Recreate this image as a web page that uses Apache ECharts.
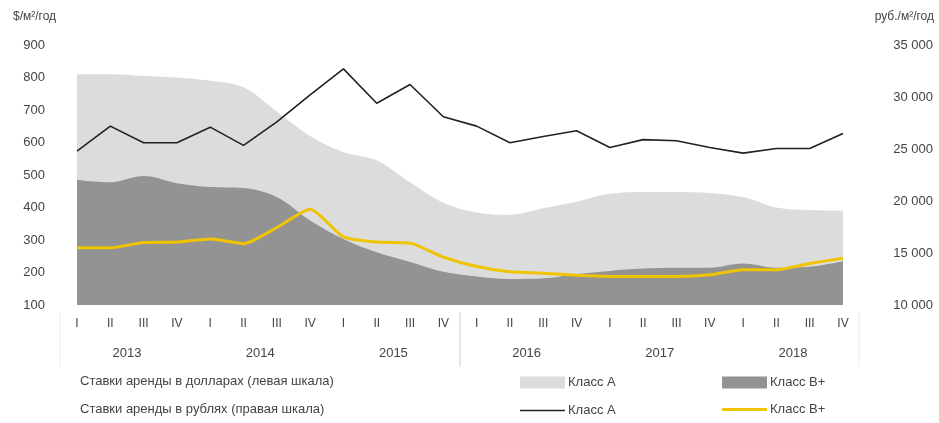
<!DOCTYPE html>
<html>
<head>
<meta charset="utf-8">
<script src="https://cdn.jsdelivr.net/npm/echarts@6/dist/echarts.min.js"></script>
<style>
  html, body { margin: 0; padding: 0; background: #fff; }
  #chart { width: 939px; height: 423px; }
</style>
</head>
<body>
<div id="chart"></div>
<script>
// quarters 2013..2018
var quarters = ['I', 'II', 'III', 'IV', 'I', 'II', 'III', 'IV', 'I', 'II', 'III', 'IV',
  'I', 'II', 'III', 'IV', 'I', 'II', 'III', 'IV', 'I', 'II', 'III', 'IV']
var years = ['2013', '2014', '2015', '2016', '2017', '2018']

// $/м²/год (left scale)
var classAUsd = [810, 810, 805, 800, 790, 770, 695, 620, 570, 545, 478, 415,
  385, 378, 398, 418, 442, 448, 448, 445, 432, 400, 392, 390]
var classBUsd = [485, 478, 497, 475, 463, 460, 432, 360, 303, 262, 232, 202,
  188, 180, 182, 195, 205, 212, 215, 215, 228, 215, 218, 235]

// руб./м²/год (right scale)
var classARub = [24800, 27200, 25600, 25600, 27100, 25350, 27600, 30200, 32700, 29400, 31200, 28100,
  27200, 25600, 26200, 26750, 25150, 25900, 25800, 25150, 24600, 25050, 25050, 26500]
var classBRub = [15500, 15500, 16000, 16050, 16350, 15900, 17450, 19200, 16550, 16050, 15950, 14600,
  13700, 13200, 13050, 12850, 12750, 12750, 12750, 12900, 13400, 13400, 14000, 14500]

var leftTicks = { min: 100, max: 900, step: 100 }
var rightTicks = { min: 10000, max: 35000, step: 5000 }

var names = {
  aUsd: 'Класс А ($)', bUsd: 'Класс В+ ($)',
  aRub: 'Класс А (руб)', bRub: 'Класс В+ (руб)'
}

// year labels sit between the 2nd and 3rd quarter of every year
var yearSlots = []
for (var i = 0; i < quarters.length - 1; i++) {
  yearSlots.push(i % 4 === 1 ? years[(i - 1) / 4] : '')
}

function spaced ( v ) {
  return String(v).replace(/\B(?=(\d{3})+(?!\d))/g, ' ')
}

var font = 'Liberation Sans, Arial, sans-serif'
var txt = '#444'

function legendAt ( name, left, top, h ) {
  return {
    left: left, top: top,
    padding: 0,
    itemWidth: 45,
    itemHeight: h,
    itemGap: 0,
    selectedMode: false,
    data: [ { name: name, icon: 'rect' } ],
    formatter: function ( n ) { return n.replace(/ \(.*\)$/, '') },
    textStyle: { fontFamily: font, fontSize: 13, color: txt, padding: [0, 0, 0, -2] }
  }
}

var chart = echarts.init(document.getElementById('chart'))

chart.setOption({
  animation: false,
  textStyle: { fontFamily: font },
  grid: { left: 77, right: 96, top: 45, bottom: 118 },
  legend: [
    legendAt(names.aUsd, 520, 376, 12),
    legendAt(names.bUsd, 722, 376, 12),
    legendAt(names.aRub, 520, 404, 1.5),
    legendAt(names.bRub, 722, 403, 3)
  ],
  graphic: [
    { type: 'text', left: 13, top: 11, style: { text: '$/м²/год', font: '12px ' + font, fill: txt } },
    { type: 'text', right: 5, top: 11, style: { text: 'руб./м²/год', font: '12px ' + font, fill: txt } },
    { type: 'text', left: 80, top: 375, style: { text: 'Ставки аренды в долларах (левая шкала)', font: '13px ' + font, fill: txt } },
    { type: 'text', left: 80, top: 403, style: { text: 'Ставки аренды в рублях (правая шкала)', font: '13px ' + font, fill: txt } },
    { type: 'line', shape: { x1: 460, y1: 312, x2: 460, y2: 367 }, style: { stroke: '#cfcfcf', lineWidth: 1 } },
    { type: 'line', shape: { x1: 60, y1: 312, x2: 60, y2: 367 }, style: { stroke: '#ececec', lineWidth: 1 } },
    { type: 'line', shape: { x1: 859, y1: 312, x2: 859, y2: 367 }, style: { stroke: '#ececec', lineWidth: 1 } }
  ],
  xAxis: [
    {
      type: 'category',
      data: quarters,
      boundaryGap: false,
      axisLine: { show: false },
      axisTick: { show: false },
      axisLabel: { interval: 0, margin: 13, fontSize: 12, color: txt, fontFamily: font }
    },
    {
      type: 'category',
      data: yearSlots,
      position: 'bottom',
      boundaryGap: true,
      axisLine: { show: false },
      axisTick: { show: false },
      axisLabel: { interval: 0, margin: 42, fontSize: 13, color: txt, fontFamily: font }
    }
  ],
  yAxis: [
    {
      type: 'value',
      min: leftTicks.min, max: leftTicks.max, interval: leftTicks.step,
      axisLine: { show: false },
      axisTick: { show: false },
      splitLine: { show: false },
      axisLabel: { margin: 32, fontSize: 13, color: txt, fontFamily: font }
    },
    {
      type: 'value',
      position: 'right',
      min: rightTicks.min, max: rightTicks.max, interval: rightTicks.step,
      axisLine: { show: false },
      axisTick: { show: false },
      splitLine: { show: false },
      axisLabel: { margin: 90, align: 'right', fontSize: 13, color: txt, fontFamily: font, formatter: spaced }
    }
  ],
  series: [
    {
      name: names.aUsd, type: 'line', data: classAUsd, yAxisIndex: 0,
      symbol: 'none', smooth: 0.35,
      itemStyle: { color: '#dcdcdc' },
      lineStyle: { width: 0, color: '#dcdcdc' },
      areaStyle: { color: '#dcdcdc', opacity: 1, origin: 'start' }
    },
    {
      name: names.bUsd, type: 'line', data: classBUsd, yAxisIndex: 0,
      symbol: 'none', smooth: 0.35,
      itemStyle: { color: '#939393' },
      lineStyle: { width: 0, color: '#939393' },
      areaStyle: { color: '#939393', opacity: 1, origin: 'start' }
    },
    {
      name: names.aRub, type: 'line', data: classARub, yAxisIndex: 1,
      symbol: 'none',
      itemStyle: { color: '#222' },
      lineStyle: { width: 1.6, color: '#222' }
    },
    {
      name: names.bRub, type: 'line', data: classBRub, yAxisIndex: 1,
      symbol: 'none', smooth: 0.2,
      itemStyle: { color: '#f0c400' },
      lineStyle: { width: 3, color: '#f0c400' }
    }
  ]
})
</script>
</body>
</html>
